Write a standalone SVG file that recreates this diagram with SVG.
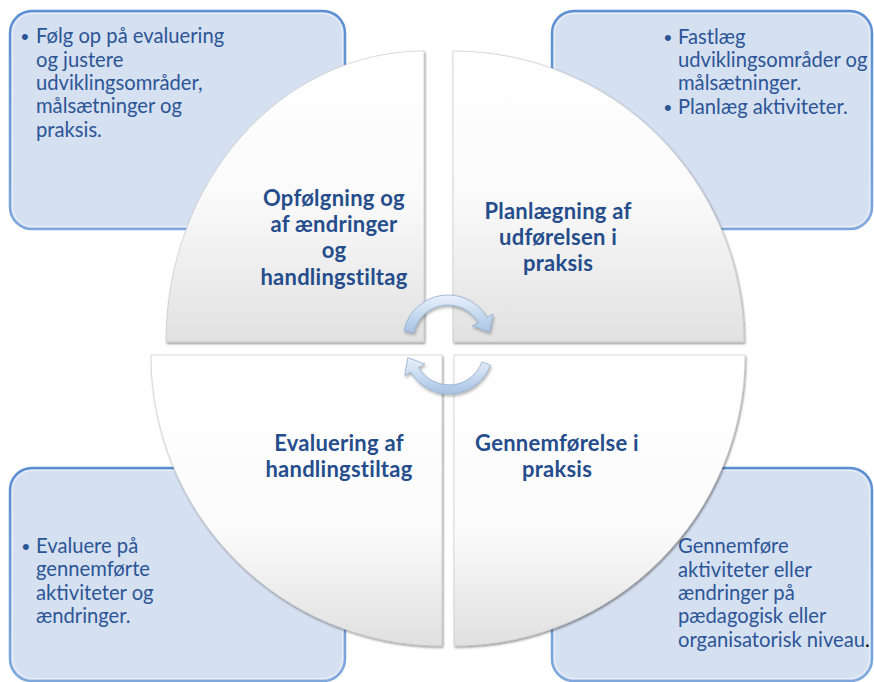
<svg xmlns="http://www.w3.org/2000/svg" width="874" height="682" viewBox="0 0 874 682">
<defs>
<style>
.box{fill:#d5e0f1;stroke:url(#boxStroke);stroke-width:2.5}
.boxin{fill:none;stroke:#ffffff;stroke-opacity:.55;stroke-width:1}
.body{font-family:Lato,"Open Sans","Liberation Sans",sans-serif;font-size:20.2px;fill:#2c5596}
.bul{font-family:"Liberation Sans",sans-serif;font-size:22px;fill:#2c5596}
.lab{font-family:Lato,"Open Sans","Liberation Sans",sans-serif;font-size:22px;letter-spacing:.25px;font-weight:bold;fill:#254d8c;text-anchor:middle}
.quadT{fill:url(#qTop);stroke:#c4c4c4;stroke-width:.6;filter:url(#sh)}
.quadB{fill:url(#qBot);stroke:#c4c4c4;stroke-width:.6;filter:url(#sh)}
.arrow{fill:url(#arr);stroke:#93afd2;stroke-width:.8;filter:url(#ash)}
</style>
<linearGradient id="boxStroke" x1="0" y1="0" x2="0" y2="1">
<stop offset="0" stop-color="#5b8ed2"/>
<stop offset="1" stop-color="#7ea8dd"/>
</linearGradient>
<linearGradient id="qTop" x1="0" y1="0" x2="0" y2="1">
<stop offset="0" stop-color="#ffffff"/>
<stop offset="0.5" stop-color="#fafafa"/>
<stop offset="1" stop-color="#e1e1e1"/>
</linearGradient>
<linearGradient id="qBot" x1="0" y1="0" x2="0" y2="1">
<stop offset="0" stop-color="#ffffff"/>
<stop offset="0.6" stop-color="#fbfbfb"/>
<stop offset="1" stop-color="#e0e0e0"/>
</linearGradient>
<linearGradient id="arr" x1="0" y1="0" x2="0" y2="1">
<stop offset="0" stop-color="#e9f1fb"/>
<stop offset="0.5" stop-color="#c8daf0"/>
<stop offset="1" stop-color="#a9c3e3"/>
</linearGradient>
<filter id="sh" x="-5%" y="-5%" width="110%" height="110%">
<feDropShadow dx="1" dy="1.5" stdDeviation="0.8" flood-color="#000" flood-opacity="0.45"/>
</filter>
<filter id="ash" x="-20%" y="-20%" width="140%" height="140%">
<feDropShadow dx="1" dy="2" stdDeviation="1.5" flood-color="#000" flood-opacity="0.3"/>
</filter>
</defs>
<rect width="874" height="682" fill="#ffffff"/>

<g id="box-tl">
<rect class="box" x="10" y="11" width="335" height="218" rx="22"/>
<rect class="boxin" x="12.5" y="13.5" width="330" height="213" rx="20"/>
<text class="bul" x="21" y="44">•</text>
<text class="body"><tspan x="36" y="43">Følg op på evaluering</tspan><tspan x="36" y="67">og justere</tspan><tspan x="36" y="90">udviklingsområder,</tspan><tspan x="36" y="113">målsætninger og</tspan><tspan x="36" y="137">praksis.</tspan></text>
</g>

<g id="box-tr">
<rect class="box" x="552" y="11" width="320" height="218" rx="22"/>
<rect class="boxin" x="554.5" y="13.5" width="315" height="213" rx="20"/>
<text class="bul" x="664" y="45">•</text>
<text class="body"><tspan x="678" y="44">Fastlæg</tspan><tspan x="678" y="67">udviklingsområder og</tspan><tspan x="678" y="90">målsætninger.</tspan></text>
<text class="bul" x="664" y="115">•</text>
<text class="body" x="678" y="114">Planlæg aktiviteter.</text>
</g>

<g id="box-bl">
<rect class="box" x="10" y="468" width="335" height="213" rx="22"/>
<rect class="boxin" x="12.5" y="470.5" width="330" height="208" rx="20"/>
<text class="bul" x="22" y="554">•</text>
<text class="body"><tspan x="36" y="553">Evaluere på</tspan><tspan x="36" y="576">gennemførte</tspan><tspan x="36" y="600">aktiviteter og</tspan><tspan x="36" y="623">ændringer.</tspan></text>
</g>

<g id="box-br">
<rect class="box" x="552" y="468" width="320" height="213" rx="22"/>
<rect class="boxin" x="554.5" y="470.5" width="315" height="208" rx="20"/>
<text class="body"><tspan x="678" y="553">Gennemføre</tspan><tspan x="678" y="577">aktiviteter eller</tspan><tspan x="678" y="600">ændringer på</tspan><tspan x="678" y="623">pædagogisk eller</tspan><tspan x="678" y="647">organisatorisk niveau<tspan fill="#000000">.</tspan></tspan></text>
</g>

<g id="quad-tl">
<path class="quadT" d="M424,342 L424,51 A258,291 0 0,0 166,342 Z"/>
<text class="lab"><tspan x="334" y="206">Opfølgning og</tspan><tspan x="334" y="232">af ændringer</tspan><tspan x="334" y="258">og</tspan><tspan x="334" y="285">handlingstiltag</tspan></text>
</g>

<g id="quad-tr">
<path class="quadT" d="M453,342 L453,51 A291,291 0 0,1 744,342 Z"/>
<text class="lab"><tspan x="558" y="219">Planlægning af</tspan><tspan x="558" y="245">udførelsen i</tspan><tspan x="558" y="271">praksis</tspan></text>
</g>

<g id="quad-bl">
<path class="quadB" d="M442,355 L442,646 A291,291 0 0,1 151,355 Z"/>
<text class="lab"><tspan x="339" y="451">Evaluering af</tspan><tspan x="339" y="477">handlingstiltag</tspan></text>
</g>

<g id="quad-br">
<path class="quadB" d="M454,355 L745,355 A291,291 0 0,1 454,646 Z"/>
<text class="lab"><tspan x="557" y="451">Gennemførelse i</tspan><tspan x="557" y="477">praksis</tspan></text>
</g>

<g id="connectors">
<path class="arrow" d="M403.98,330.64 A45,45 0 0,1 486.97,317.5 L493.03,314 L489.64,332.12 L472.25,326 L478.31,322.5 A35,35 0 0,0 413.77,332.72 Z"/>
<path class="arrow" d="M490.35,365.05 A44,44 0 0,1 410.89,372 L404.83,375.5 L407.79,357.63 L424.75,364 L418.69,367.5 A35,35 0 0,0 481.89,361.97 Z"/>
</g>
</svg>
